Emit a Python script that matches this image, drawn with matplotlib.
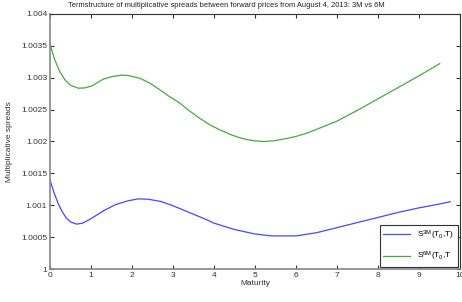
import numpy as np
import matplotlib
matplotlib.use("Agg")
import matplotlib.pyplot as plt

plt.rcParams['font.family'] = ['Liberation Sans', 'DejaVu Sans']
plt.rcParams['mathtext.fontset'] = 'custom'
plt.rcParams['mathtext.rm'] = 'Liberation Sans'
plt.rcParams['mathtext.it'] = 'Liberation Sans'

# values (spread - 1, in units of 1e-3)
mat_6m = [0.0, 0.06, 0.12, 0.24, 0.37, 0.49, 0.69, 0.85, 1.02, 1.3, 1.5, 1.75,
          1.9, 2.2, 2.45, 2.68, 2.9, 3.17, 3.4, 3.66, 3.9, 4.15, 4.4, 4.59,
          4.8, 5.0, 5.2, 5.45, 5.8, 6.0, 6.26, 6.5, 7.0, 7.5, 8.0, 8.5, 9.0,
          9.5]
exc_6m = [3.54, 3.40, 3.28, 3.095, 2.965, 2.886, 2.835, 2.84, 2.87, 2.976,
          3.015, 3.04, 3.035, 2.99, 2.91, 2.81, 2.71, 2.60, 2.48, 2.36, 2.26,
          2.18, 2.11, 2.066, 2.03, 2.01, 2.0, 2.01, 2.05, 2.08, 2.13, 2.19,
          2.32, 2.49, 2.67, 2.85, 3.03, 3.22]

mat_3m = [0.0, 0.1, 0.2, 0.3, 0.4, 0.5, 0.65, 0.8, 1.0, 1.34, 1.6, 1.9, 2.15,
          2.4, 2.7, 2.97, 3.2, 3.5, 3.8, 4.0, 4.5, 5.0, 5.4, 6.0, 6.5, 7.0,
          7.5, 8.0, 8.5, 9.0, 9.5, 9.76]
exc_3m = [1.40, 1.20, 1.03, 0.90, 0.80, 0.74, 0.705, 0.72, 0.79, 0.925, 1.01,
          1.07, 1.10, 1.095, 1.06, 1.00, 0.94, 0.86, 0.78, 0.72, 0.62, 0.55,
          0.52, 0.52, 0.57, 0.65, 0.73, 0.81, 0.89, 0.96, 1.02, 1.056]

yticks = [1.0, 1.0005, 1.001, 1.0015, 1.002, 1.0025, 1.003, 1.0035, 1.004]
ylabels = ['1', '1.0005', '1.001', '1.0015', '1.002', '1.0025', '1.003', '1.0035', '1.004']

spr_6m = 1.0 + np.array(exc_6m) * 1e-3
spr_3m = 1.0 + np.array(exc_3m) * 1e-3

fig = plt.figure(figsize=(4.62, 3.02), dpi=100)
ax = fig.add_axes([0.108, 0.109, 0.888, 0.845])

ax.plot(mat_3m, spr_3m, color='#4848ff', lw=0.9, label=r'S$^{3M}$(T$_0$,T)')
ax.plot(mat_6m, spr_6m, color='#48a848', lw=0.9, label=r'S$^{6M}$(T$_0$,T')

ax.set_xlim(0, 10)
ax.set_ylim(1.0, 1.004)
ax.set_xticks(range(11))
ax.set_yticks(yticks)
ax.set_yticklabels(ylabels)
ax.tick_params(direction='in', labelsize=6, top=True, right=True, pad=2,
               length=3, color='#333333', labelcolor='#333333')
for side in ['top', 'right']:
    ax.spines[side].set_color('#333333')
    ax.spines[side].set_linewidth(0.8)
for side in ['left', 'bottom']:
    ax.spines[side].set_color('#888888')
    ax.spines[side].set_linewidth(1.2)

ax.set_xlabel('Maturity', fontsize=6, labelpad=1, color='#333333')
ax.set_ylabel('Multiplicative spreads', fontsize=6, labelpad=6, color='#333333')
fig.text(0.489, 0.982,
         'Termstructure of multiplicative spreads between forward prices from August 4, 2013: 3M vs 6M',
         fontsize=5.4, ha='center', va='center', color='#222222')

leg = ax.legend(loc='lower right', fontsize=6, fancybox=False, framealpha=1,
                edgecolor='#333333', handlelength=3.3, borderaxespad=0.3,
                labelspacing=1.0)
leg.get_frame().set_linewidth(0.8)

fig.savefig('out.png', dpi=100)
